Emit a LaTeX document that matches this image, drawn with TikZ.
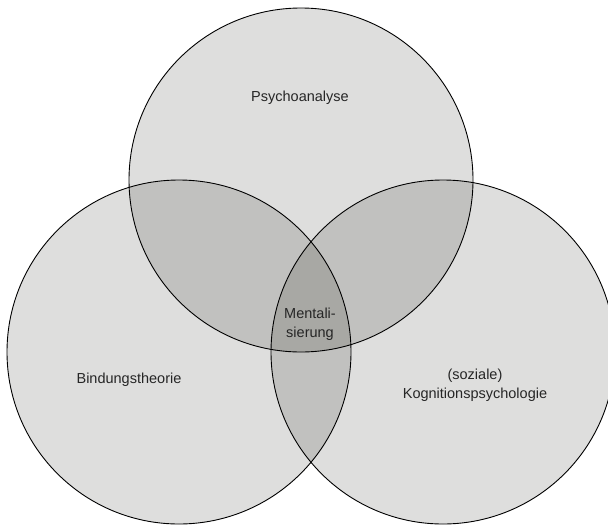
\documentclass[tikz,border=0pt]{standalone}
\usepackage{fontspec}
\setmainfont{Liberation Sans}
\definecolor{basefill}{RGB}{222,222,221}
\definecolor{pairfill}{RGB}{193,193,191}
\definecolor{triplefill}{RGB}{168,168,164}
\begin{document}
\begin{tikzpicture}[x=1pt,y=-1pt,
  lbl/.style={inner sep=0pt,align=center,font=\fontsize{14.5}{19.5}\selectfont,text=black!85},
  ring/.style={draw=black,line width=0.9pt}]
\useasboundingbox (0,0) rectangle (608,525);
\clip (0,0) rectangle (608,525);
\coordinate (T) at (301,180);
\coordinate (L) at (179,352);
\coordinate (R) at (443,352);
\fill[basefill] (T) circle[radius=172pt];
\fill[basefill] (L) circle[radius=172pt];
\fill[basefill] (R) circle[radius=172pt];
\begin{scope}
  \clip (T) circle[radius=172pt];
  \fill[pairfill] (L) circle[radius=172pt];
  \fill[pairfill] (R) circle[radius=172pt];
\end{scope}
\begin{scope}
  \clip (L) circle[radius=172pt];
  \fill[pairfill] (R) circle[radius=172pt];
\end{scope}
\begin{scope}
  \clip (T) circle[radius=172pt];
  \clip (L) circle[radius=172pt];
  \fill[triplefill] (R) circle[radius=172pt];
\end{scope}
\draw[ring] (T) circle[radius=172pt];
\draw[ring] (L) circle[radius=172pt];
\draw[ring] (R) circle[radius=172pt];
\node[lbl] (psy) at (300,98) {Psychoanalyse};
\node[lbl] (bind) at (129,380) {Bindungstheorie};
\node[lbl] (kog) at (475,385) {(soziale)\\Kognitionspsychologie};
\node[lbl] (ment) at (310,324) {Mentali-\\sierung};
\end{tikzpicture}
\end{document}
